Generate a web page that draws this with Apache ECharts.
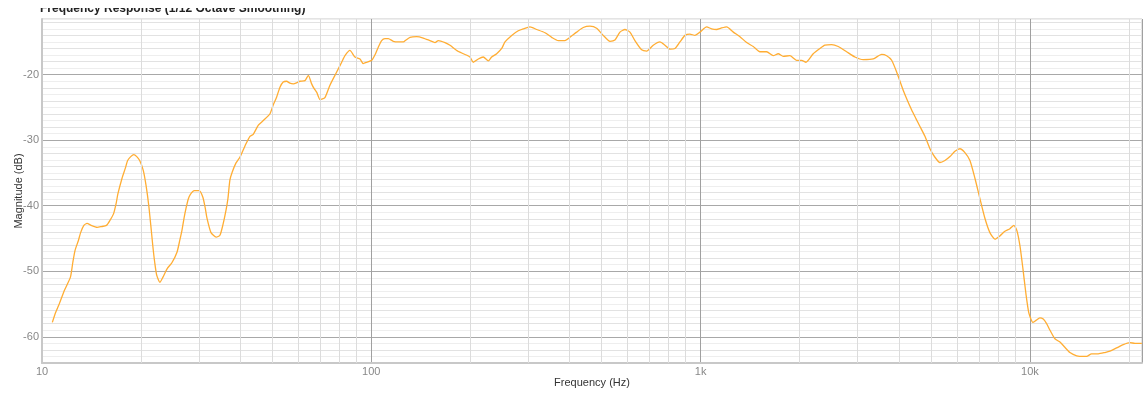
<!DOCTYPE html>
<html>
<head>
<meta charset="utf-8">
<script src="https://cdn.jsdelivr.net/npm/echarts@6/dist/echarts.min.js"></script>
<style>
html,body{margin:0;padding:0;background:#fff;}
#chart{width:1143px;height:393px;}
</style>
</head>
<body>
<div id="chart"></div>
<script>
const titleText = 'Frequency Response (1/12 Octave Smoothing)';
const xAxisName = 'Frequency (Hz)';
const yAxisName = 'Magnitude (dB)';

const freqHz = [10.75,11.0,11.3,11.7,12.2,12.4,12.6,12.9,13.1,13.4,13.7,14.1,14.7,15.1,15.7,16.1,16.5,16.8,17.0,17.5,17.9,18.2,18.6,19.0,19.4,19.8,20.3,20.7,21.1,21.4,21.7,22.0,22.3,22.8,23.3,24.0,24.8,25.7,26.2,26.6,27.0,27.4,27.8,28.2,29.0,30.0,30.8,31.3,31.7,32.6,33.8,34.7,35.4,36.2,36.7,37.2,37.8,38.8,39.9,41.4,42.8,43.8,45.4,47.0,49.2,50.3,51.6,52.8,54.0,55.3,56.6,58.0,59.5,60.7,62.9,64.4,65.9,67.0,68.3,69.9,72.3,74.9,78.5,81.3,83.2,86.1,89.2,92.4,94.5,97.0,100.3,103,105,107.5,110,112.6,116.6,120.8,125.1,127.5,131.1,137.3,143.8,150.7,156.1,159.7,167.4,173.4,181.7,190.3,199.4,204,211.3,218.8,226.6,232,240.3,248.9,254.7,266.9,279.5,289.4,303.3,317.8,336.9,353,369.7,387.3,401.1,420.4,440.2,461.3,483.4,506.3,530.5,549.4,569,589.3,610.2,631.9,662.2,685.8,718.1,752.6,779.4,807.1,835.8,865.6,896.4,928.2,961.2,995.4,1043,1080,1119,1153,1200,1257,1317,1380,1445,1514,1587,1662,1721,1782,1867,1956,2027,2089,2198,2303,2385,2500,2618,2776,2942,3118,3345,3547,3673,3804,3939,4126,4375,4508,4636,4801,4972,5149,5332,5521,5718,5921,6132,6349,6575,6809,7051,7301,7561,7830,8109,8398,8696,8943,9132,9326,9524,9725,9931,10210,10430,10720,10980,11240,11510,11910,12340,12770,13230,13870,14520,14870,15390,16130,16900,17500,18340,19210,20130,20840,21880];

const magnitudeDb = [-57.8,-56.3,-54.9,-52.9,-50.9,-48.7,-46.8,-45.3,-44.1,-43.0,-42.7,-43.0,-43.3,-43.2,-43.0,-42.2,-41.2,-39.6,-38.2,-35.8,-34.3,-33.1,-32.5,-32.2,-32.5,-33.1,-34.6,-36.9,-40.0,-43.0,-46.1,-48.7,-50.6,-51.7,-50.9,-49.6,-48.7,-47.1,-45.3,-43.8,-41.9,-40.3,-39.0,-38.3,-37.7,-37.7,-38.7,-40.3,-41.9,-44.1,-44.8,-44.5,-43.0,-40.7,-38.9,-36.1,-34.9,-33.5,-32.6,-30.8,-29.4,-29.1,-27.7,-27.0,-26.0,-24.7,-23.4,-21.9,-21.1,-21.0,-21.3,-21.4,-21.2,-21.0,-20.9,-20.1,-21.4,-22.1,-22.7,-23.8,-23.5,-21.6,-19.6,-18.1,-17.1,-16.3,-17.3,-17.6,-18.3,-18.1,-17.8,-16.8,-15.8,-14.8,-14.5,-14.5,-14.9,-15.0,-15.0,-14.7,-14.3,-14.2,-14.4,-14.8,-15.1,-14.8,-15.1,-15.5,-16.3,-16.8,-17.3,-18.1,-17.6,-17.3,-17.9,-17.3,-16.8,-16.0,-15.0,-14.0,-13.3,-13.0,-12.7,-13.1,-13.6,-14.3,-14.8,-14.8,-14.3,-13.5,-12.8,-12.6,-12.9,-14.0,-14.9,-14.7,-13.5,-13.1,-13.5,-14.8,-16.2,-16.4,-15.5,-15.0,-15.5,-16.1,-16.0,-15.0,-14.0,-13.8,-14.0,-13.5,-12.7,-13.0,-13.1,-12.9,-12.7,-13.5,-14.2,-15.1,-15.7,-16.5,-16.5,-17.1,-16.8,-17.2,-17.1,-17.8,-17.8,-18.1,-16.8,-16.0,-15.5,-15.4,-15.7,-16.5,-17.3,-17.7,-17.6,-16.9,-17.1,-17.8,-19.6,-22.4,-25.4,-26.7,-27.9,-29.4,-31.3,-32.6,-33.4,-33.1,-32.5,-31.7,-31.3,-31.9,-33.1,-35.8,-38.9,-41.9,-44.1,-45.1,-44.6,-43.9,-43.5,-43.0,-43.8,-46.1,-49.6,-53.4,-56.4,-57.8,-57.5,-57.1,-57.3,-58.0,-59.0,-60.3,-60.8,-61.6,-62.4,-62.9,-63.0,-63.0,-62.6,-62.6,-62.4,-62.2,-61.7,-61.2,-60.9,-61.0,-61.0];

const majorFreqTicks = [10, 100, 1000, 10000];
const minorFreqGrid = [20,30,40,50,60,70,80,90,200,300,400,500,600,700,800,900,2000,3000,4000,5000,6000,7000,8000,9000,20000];
const yTickLabels = [-20, -30, -40, -50, -60];

const chart = echarts.init(document.getElementById('chart'), null, {renderer: 'canvas'});

const curve = freqHz.map((f, i) => [f, magnitudeDb[i]]);
const hMinorColors = ['#e2e2e2','#eeeeee','#e2e2e2','#eeeeee','#a8a8a8','#eeeeee','#e2e2e2','#eeeeee','#e2e2e2','#eeeeee'];
const FONT = 'Liberation Sans, Arial, sans-serif';

const option = {
  animation: false,
  backgroundColor: '#ffffff',
  title: {
    text: titleText,
    left: 40,
    top: 3,
    padding: [0, 0, 0, 0],
    textStyle: {fontFamily: FONT, fontSize: 12, fontWeight: 'bold', color: '#222'}
  },
  graphic: [{
    type: 'rect', left: 0, top: 0, z: 100, silent: true,
    shape: {width: 420, height: 8},
    style: {fill: '#ffffff'}
  }],
  grid: {
    left: 42, right: 1, top: 19, bottom: 30,
    outerBoundsMode: 'none', containLabel: false,
    show: true, borderColor: '#c8c8c8', borderWidth: 1, backgroundColor: 'transparent'
  },
  xAxis: {
    type: 'log', logBase: 10, min: 10, max: 21900,
    name: xAxisName, nameLocation: 'middle', nameGap: 14, nameMoveOverlap: false,
    nameTextStyle: {fontFamily: FONT, fontSize: 11, color: '#333'},
    axisLine: {show: true, onZero: false, lineStyle: {color: '#c8c8c8', width: 2}},
    axisTick: {show: false},
    axisLabel: {
      margin: 3, fontFamily: FONT, fontSize: 11, color: '#888',
      showMaxLabel: false,
      formatter: v => majorFreqTicks.indexOf(Math.round(v)) >= 0 ? (v >= 1000 ? (Math.round(v) / 1000) + 'k' : String(Math.round(v))) : ''
    },
    splitLine: {show: true, lineStyle: {color: '#a0a0a0', width: 1}}
  },
  yAxis: {
    type: 'value', min: -64, max: -11.5, interval: 1,
    name: yAxisName, nameLocation: 'middle', nameGap: 18, nameRotate: 90, nameMoveOverlap: false,
    nameTextStyle: {fontFamily: FONT, fontSize: 11, color: '#333'},
    axisLine: {show: true, lineStyle: {color: '#c8c8c8', width: 2}},
    axisTick: {show: false},
    axisLabel: {
      margin: 3, fontFamily: FONT, fontSize: 11, color: '#888',
      formatter: v => yTickLabels.indexOf(v) >= 0 ? String(v) : ''
    },
    splitLine: {show: true, lineStyle: {color: hMinorColors, width: 1}}
  },
  series: [
    {
      type: 'line', data: [], z: 1, silent: true,
      markLine: {
        silent: true, symbol: 'none', animation: false,
        label: {show: false},
        lineStyle: {color: '#dcdcdc', width: 1, type: 'solid'},
        emphasis: {disabled: true},
        data: minorFreqGrid.map(f => ({xAxis: f}))
      }
    },
    {
      type: 'line', data: curve, z: 3, showSymbol: false, smooth: 0.2,
      lineStyle: {color: '#ffad33', width: 1.3},
      itemStyle: {color: '#ffad33'}
    }
  ]
};
chart.setOption(option);
</script>
</body>
</html>
